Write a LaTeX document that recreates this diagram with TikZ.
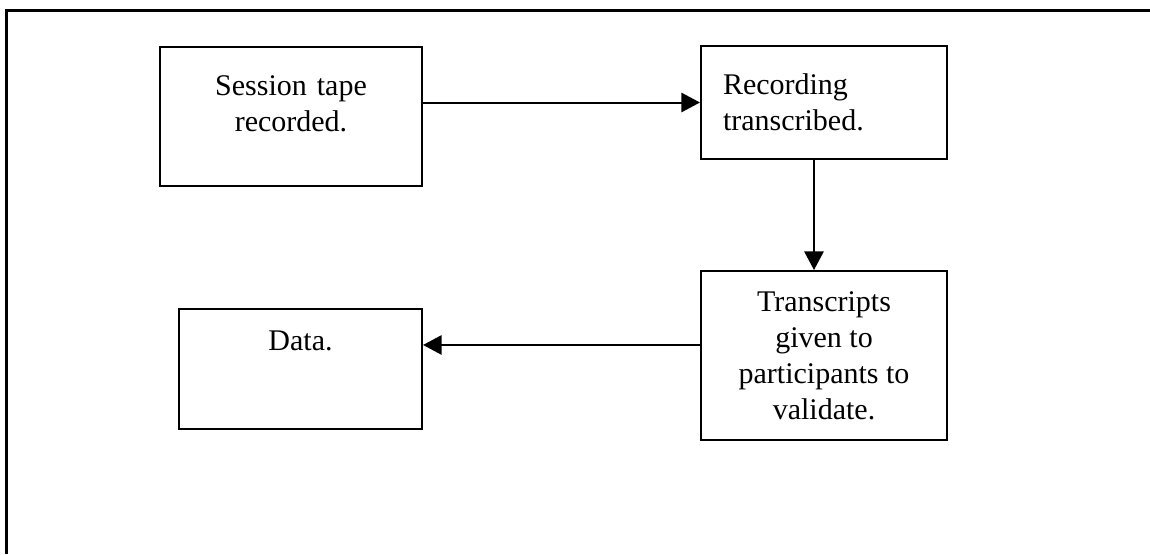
\documentclass[tikz,border=0pt]{standalone}
\usepackage{fontspec}
\setmainfont{Liberation Serif}
\usetikzlibrary{arrows.meta}

\begin{document}
\begin{tikzpicture}[x=0.75pt,y=-0.75pt,
    stage/.style={draw,line width=1.5pt,font=\fontsize{22.5pt}{27pt}\selectfont,align=center,inner sep=0pt},
    flow/.style={line width=1.5pt,-{Triangle[length=14pt,width=14.5pt]}}]
      \useasboundingbox (0,0) rectangle (1150,554);
      \draw[line width=2.25pt] (1150,10.5)--(6.5,10.5)--(6.5,554);
      \node[stage,text width=196.5pt,text height=36pt,text depth=68.25pt,anchor=north] (tape) at (291,46) {Session tape\\recorded.};
      \node[stage,text width=151.5pt,inner xsep=16.5pt,minimum height=84.75pt,align=left] (transcribed) at (824,102.5) {Recording\\transcribed.};
      \node[stage,minimum width=184.5pt,minimum height=126.75pt] (validate) at (824,355.5) {Transcripts\\given to\\participants to\\validate.};
      \node[stage,text width=182.25pt,text height=30.75pt,text depth=59.25pt,anchor=north] (data) at (300.5,308) {Data.};
      \draw[flow] (transcribed.west -| tape.east) -- (transcribed.west);
      \draw[flow] ([xshift=-7.5pt]transcribed.south) -- ([xshift=-7.5pt]validate.north);
      \draw[flow] ([yshift=7.9pt]validate.west) -- ([yshift=7.9pt]validate.west -| data.east);
    \end{tikzpicture}
\end{document}
